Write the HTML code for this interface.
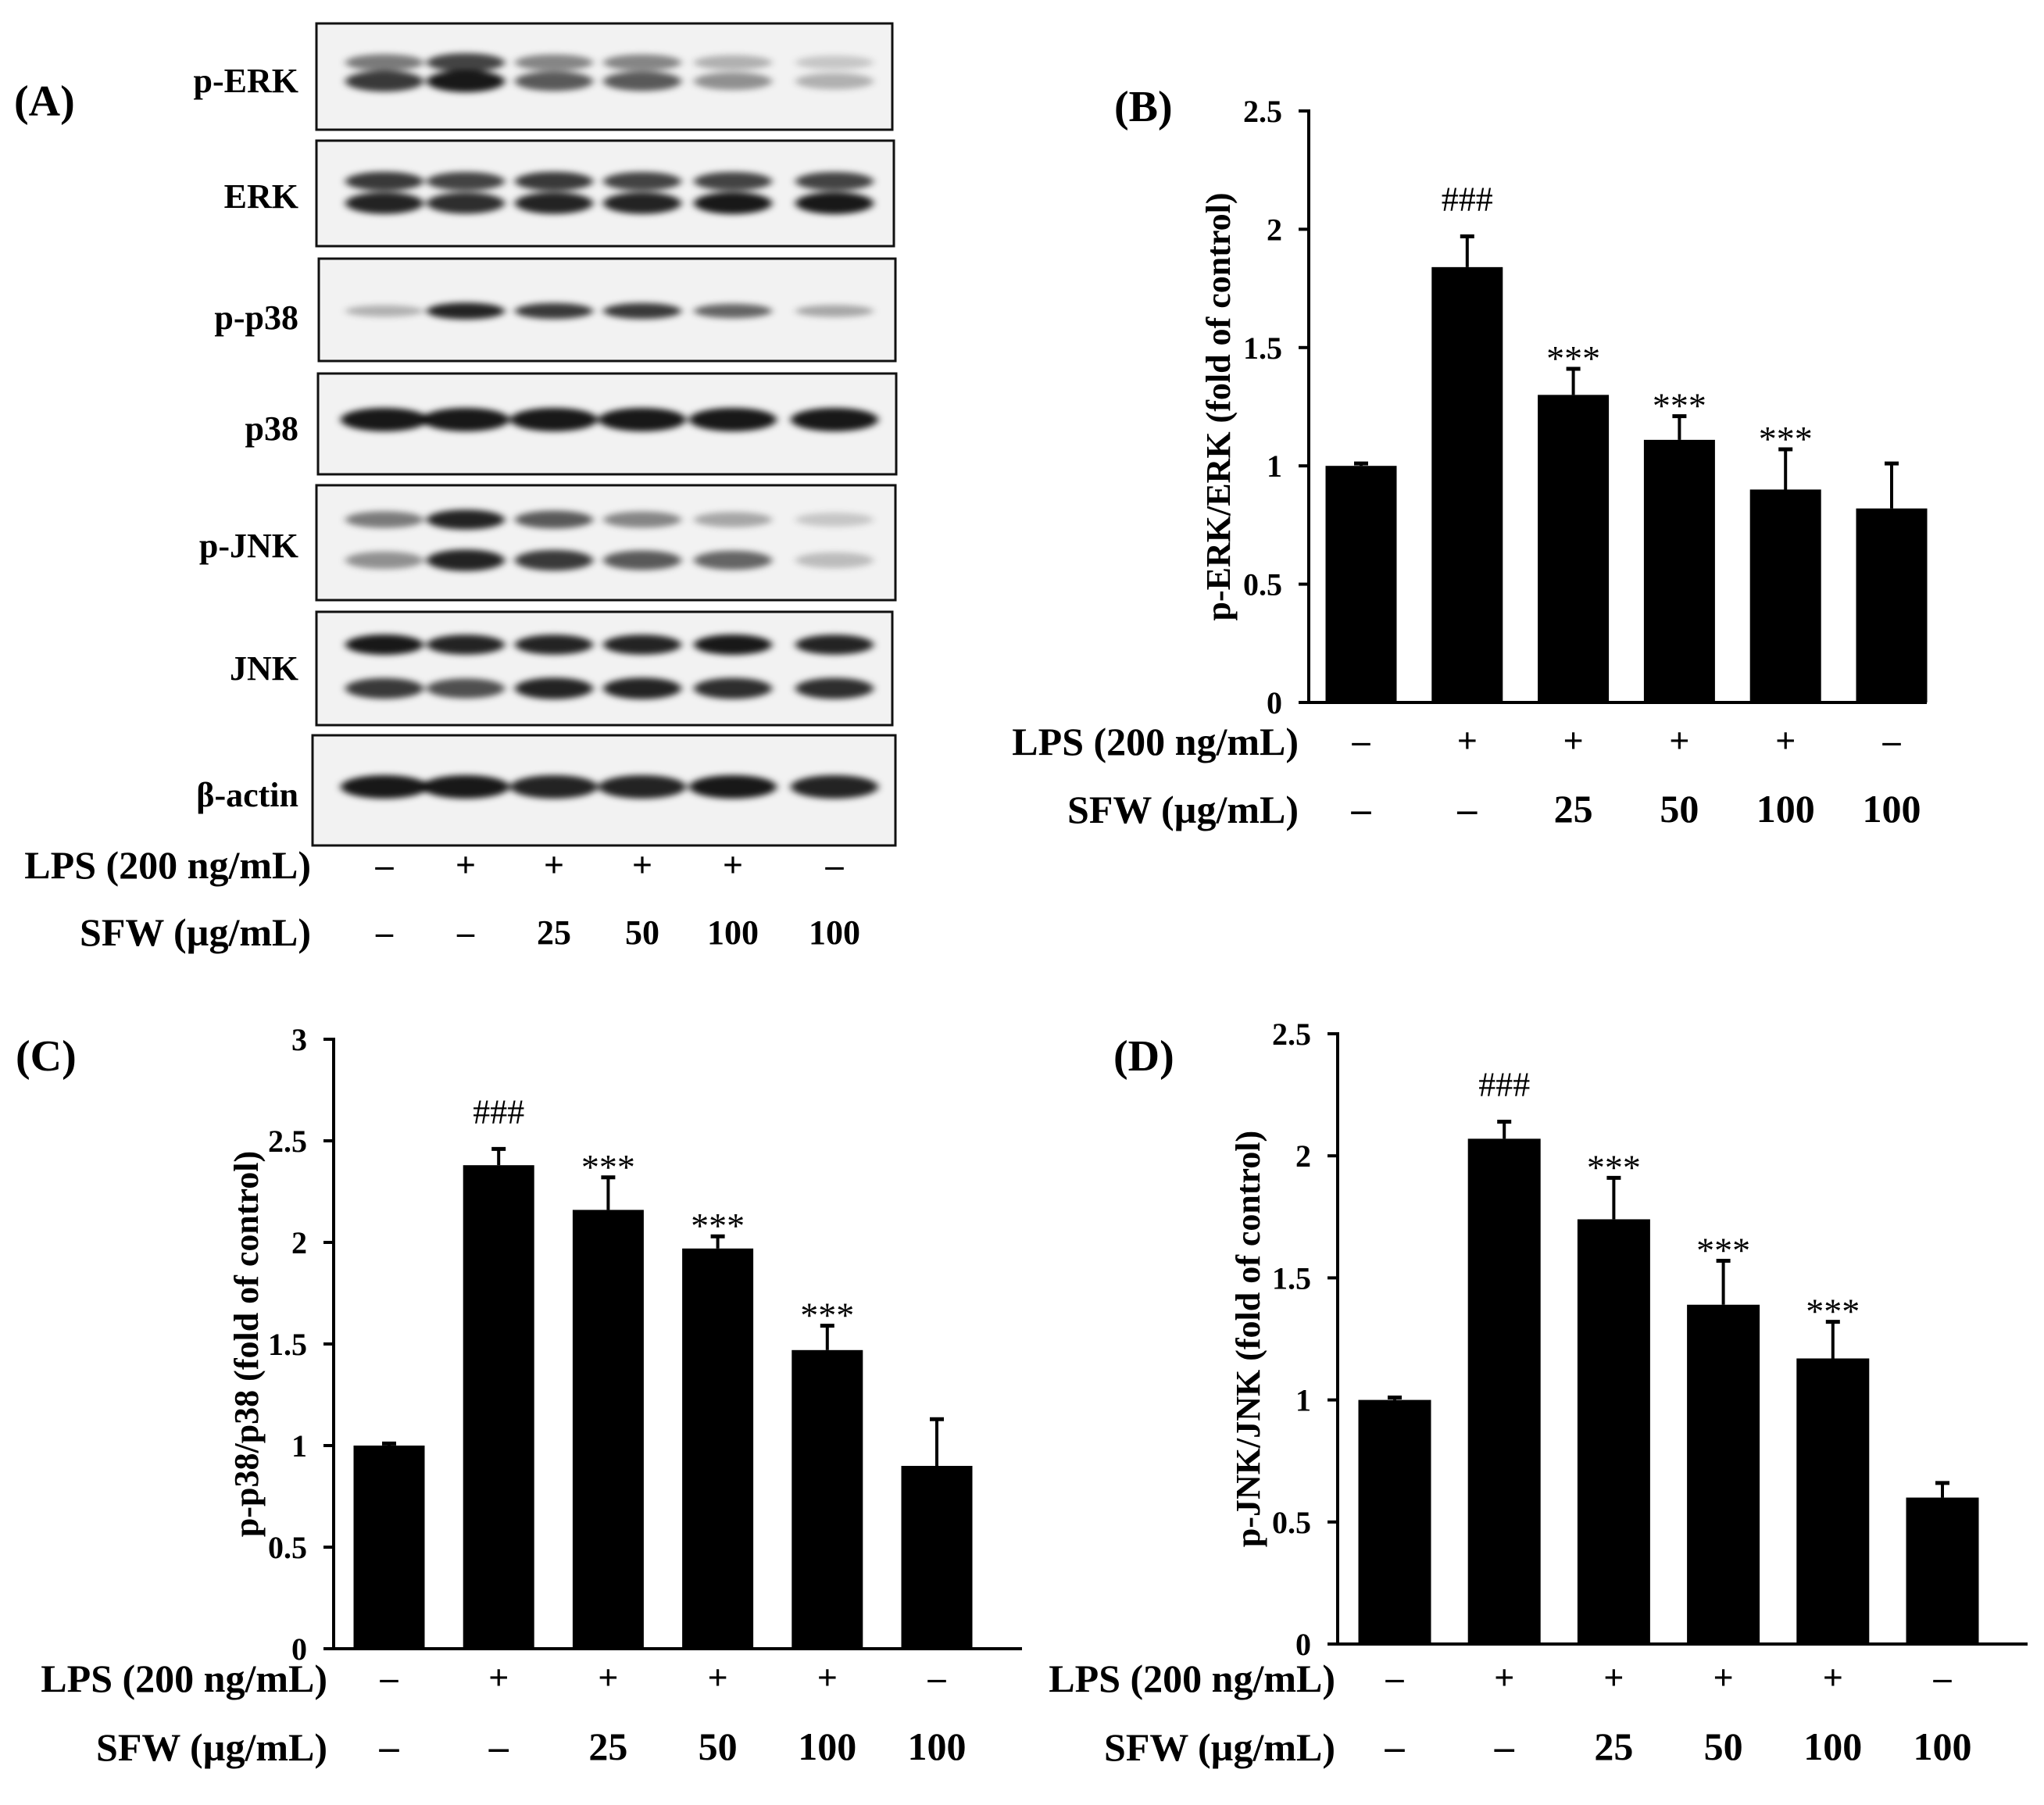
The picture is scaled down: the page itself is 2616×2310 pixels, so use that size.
<!DOCTYPE html>
<html><head><meta charset="utf-8"><style>
html,body{margin:0;padding:0;background:#fff;}
svg{display:block;font-family:"Liberation Serif",serif;}
</style></head><body>
<svg id="fig" xmlns="http://www.w3.org/2000/svg" width="2616" height="2310" viewBox="0 0 2616 2310">
<defs>
<filter id="blur" x="-30%" y="-100%" width="160%" height="300%"><feGaussianBlur stdDeviation="5 4"/></filter>
</defs>
<rect width="2616" height="2310" fill="#fff"/>
<g id="panelA"></g>
<g id="panelB"></g>
<g id="panelC"></g>
<g id="panelD"></g>
</svg>
<script>
// ---- data ----
const lpsRow = ["–","+","+","+","+","–"];
const sfwRow = ["–","–","25","50","100","100"];
const perkValues = [1.00, 1.84, 1.30, 1.11, 0.90, 0.82];
const perkErrors = [0.01, 0.13, 0.11, 0.10, 0.17, 0.19];
const perkMarks  = ["", "###", "***", "***", "***", ""];
const perkTicks  = [0, 0.5, 1, 1.5, 2, 2.5];
const pp38Values = [1.00, 2.38, 2.16, 1.97, 1.47, 0.90];
const pp38Errors = [0.01, 0.08, 0.16, 0.06, 0.12, 0.23];
const pp38Marks  = ["", "###", "***", "***", "***", ""];
const pp38Ticks  = [0, 0.5, 1, 1.5, 2, 2.5, 3];
const pjnkValues = [1.00, 2.07, 1.74, 1.39, 1.17, 0.60];
const pjnkErrors = [0.01, 0.07, 0.17, 0.18, 0.15, 0.06];
const pjnkMarks  = ["", "###", "***", "***", "***", ""];
const pjnkTicks  = [0, 0.5, 1, 1.5, 2, 2.5];
const blotNames = ["p-ERK","ERK","p-p38","p38","p-JNK","JNK","β-actin"];
const blotUpper = [[0.55,0.8,0.5,0.5,0.3,0.2],[0.85,0.8,0.85,0.8,0.8,0.8],[0.3,0.95,0.85,0.85,0.65,0.35],[1,1,1,1,1,1],[0.55,0.95,0.7,0.5,0.35,0.2],[1,0.95,0.95,0.95,1,0.95],[1,1,0.95,0.95,1,0.95]];
const blotLower = [[0.85,1,0.7,0.7,0.45,0.3],[0.95,0.9,0.95,0.95,1,1],null,null,[0.45,0.95,0.85,0.7,0.65,0.25],[0.85,0.75,0.95,0.95,0.9,0.9],null];

const NS = "http://www.w3.org/2000/svg";
function mk(parent, tag, attrs, txt){
  const e = document.createElementNS(NS, tag);
  for (const k in attrs) e.setAttribute(k, attrs[k]);
  if (txt !== undefined) e.textContent = txt;
  parent.appendChild(e);
  return e;
}

// ---- Panel A ----
(function(){
  const g = document.getElementById('panelA');
  const lab = mk(g,'text',{x:18,y:148,'font-size':56,'font-weight':'bold'},'(A)');
  
  
  const boxes = [[405,30,1142,166],[405,180,1144,315],[408,331,1146,462],[407,478,1147,607],[405,621,1146,768],[405,783,1142,928],[400,941,1146,1082]];
  const bandY = [[80,104],[232,260],[null,398],[null,537],[665,717],[825,881],[null,1007]];
  const labelY = [118,266,421,563,713,870,1032];
  const lanes = [492,596,709,822,938,1068];
  boxes.forEach((b,i)=>{
    const bg = mk(g,'g',{});
    
    
    mk(bg,'rect',{x:b[0],y:b[1],width:b[2]-b[0],height:b[3]-b[1],fill:'#f2f2f2'});
    const bands = mk(bg,'g',{filter:'url(#blur)'});
    lanes.forEach((lx,j)=>{
      const w = (i===3||i===6)?56:50;
      if (blotUpper[i] && bandY[i][0]!==null){
        const v = blotUpper[i][j];
        mk(bands,'ellipse',{cx:lx,cy:bandY[i][0],rx:w,ry:8+5*v,fill:'#000','fill-opacity':v*0.9});
      }
      const v2 = (blotLower[i]||blotUpper[i])[j];
      const ry = (i===3||i===6)?15:(i===2?6+5*v2:9+5*v2);
      mk(bands,'ellipse',{cx:lx,cy:bandY[i][1],rx:w,ry:ry,fill:'#000','fill-opacity':v2*0.9});
    });
    mk(bg,'rect',{x:b[0],y:b[1],width:b[2]-b[0],height:b[3]-b[1],fill:'none',stroke:'#111','stroke-width':3});
    const t = mk(g,'text',{x:382,y:labelY[i],'font-size':44,'font-weight':'bold','text-anchor':'end'},blotNames[i]);
    
    
  });
  const r1 = mk(g,'text',{x:398,y:1124,'font-size':50,'font-weight':'bold','text-anchor':'end'},'LPS (200 ng/mL)');
  
  
  const r2 = mk(g,'text',{x:398,y:1210,'font-size':50,'font-weight':'bold','text-anchor':'end'},'SFW (µg/mL)');
  
  
  lanes.forEach((lx,j)=>{
    const a = mk(g,'text',{x:lx,y:1122,'font-size':46,'font-weight':'bold','text-anchor':'middle'},lpsRow[j]);
    
    
    const c = mk(g,'text',{x:lx,y:1208,'font-size':44,'font-weight':'bold','text-anchor':'middle'},sfwRow[j]);
    
    
  });
})();

// ---- bar chart helper ----
function barChart(cfg){
  const g = document.getElementById(cfg.id);
  const yScale = v => cfg.y0 - (v - cfg.ticks[0]) / (cfg.ticks[cfg.ticks.length-1] - cfg.ticks[0]) * (cfg.y0 - cfg.yTop);
  const xScale = i => cfg.x0 + i * cfg.step;
  const pl = mk(g,'text',{x:cfg.labelX,y:cfg.labelY,'font-size':56,'font-weight':'bold'},cfg.label);
  
  
  cfg.values.forEach((v,i)=>{
    const cx = xScale(i);
    const top = yScale(v + cfg.errors[i]);
    const eb = mk(g,'g',{stroke:'#000','stroke-width':4});
    
    
    mk(eb,'line',{x1:cx,y1:yScale(v),x2:cx,y2:top});
    mk(eb,'line',{x1:cx-9,y1:top,x2:cx+9,y2:top,'stroke-width':5});
    const r = mk(g,'rect',{x:cx-cfg.bw/2,y:yScale(v),width:cfg.bw,height:cfg.y0-yScale(v),fill:'#000'});
    
    
    if (cfg.marks[i]){
      const isHash = cfg.marks[i][0]==='#';
      const t = mk(g,'text',{x:cx,y:isHash?top-33:top+2,'font-size':isHash?44:46,'text-anchor':'middle'},cfg.marks[i]);
      
      
    }
  });
  const ax = mk(g,'g',{stroke:'#000','stroke-width':4});
  
  
  mk(ax,'line',{x1:cfg.axisX,y1:cfg.yTop-2,x2:cfg.axisX,y2:cfg.y0+2});
  mk(ax,'line',{x1:cfg.axisX-13,y1:cfg.y0,x2:cfg.xEnd,y2:cfg.y0});
  cfg.ticks.forEach(t=>{
    const y = yScale(t);
    mk(ax,'line',{x1:cfg.axisX-13,y1:y,x2:cfg.axisX,y2:y});
    const tl = mk(g,'text',{x:cfg.axisX-34,y:y+14,'font-size':40,'font-weight':'bold','text-anchor':'end'},String(t));
    
    
  });
  const yt = mk(g,'text',{x:0,y:0,'font-size':44,'font-weight':'bold','text-anchor':'middle',transform:`translate(${cfg.titleX},${(cfg.y0+cfg.yTop)/2}) rotate(-90)`},cfg.title);
  
  
  const r1 = mk(g,'text',{x:cfg.rowLabelX,y:cfg.lpsY+10,'font-size':50,'font-weight':'bold','text-anchor':'end'},'LPS (200 ng/mL)');
  
  
  const r2 = mk(g,'text',{x:cfg.rowLabelX,y:cfg.sfwY+10,'font-size':50,'font-weight':'bold','text-anchor':'end'},'SFW (µg/mL)');
  
  
  cfg.values.forEach((v,i)=>{
    const a = mk(g,'text',{x:xScale(i),y:cfg.lpsY+7,'font-size':46,'font-weight':'bold','text-anchor':'middle'},lpsRow[i]);
    
    
    const c = mk(g,'text',{x:xScale(i),y:cfg.sfwY+9,'font-size':50,'font-weight':'bold','text-anchor':'middle'},sfwRow[i]);
    
    
  });
}

barChart({id:'panelB',label:'(B)',labelX:1426,labelY:155,values:perkValues,errors:perkErrors,marks:perkMarks,ticks:perkTicks,
  y0:899,yTop:142,axisX:1675,xEnd:2466,x0:1742,step:135.8,bw:91,title:'p-ERK/ERK (fold of control)',titleX:1574,
  rowLabelX:1662,lpsY:956,sfwY:1043});
barChart({id:'panelC',label:'(C)',labelX:20,labelY:1370,values:pp38Values,errors:pp38Errors,marks:pp38Marks,ticks:pp38Ticks,
  y0:2110,yTop:1330,axisX:427,xEnd:1308,x0:498,step:140.2,bw:91,title:'p-p38/p38 (fold of control)',titleX:330,
  rowLabelX:419,lpsY:2155,sfwY:2243});
barChart({id:'panelD',label:'(D)',labelX:1425,labelY:1370,values:pjnkValues,errors:pjnkErrors,marks:pjnkMarks,ticks:pjnkTicks,
  y0:2104,yTop:1323,axisX:1712,xEnd:2595,x0:1785,step:140.2,bw:93,title:'p-JNK/JNK (fold of control)',titleX:1612,
  rowLabelX:1709,lpsY:2155,sfwY:2243});
</script>
</body></html>
